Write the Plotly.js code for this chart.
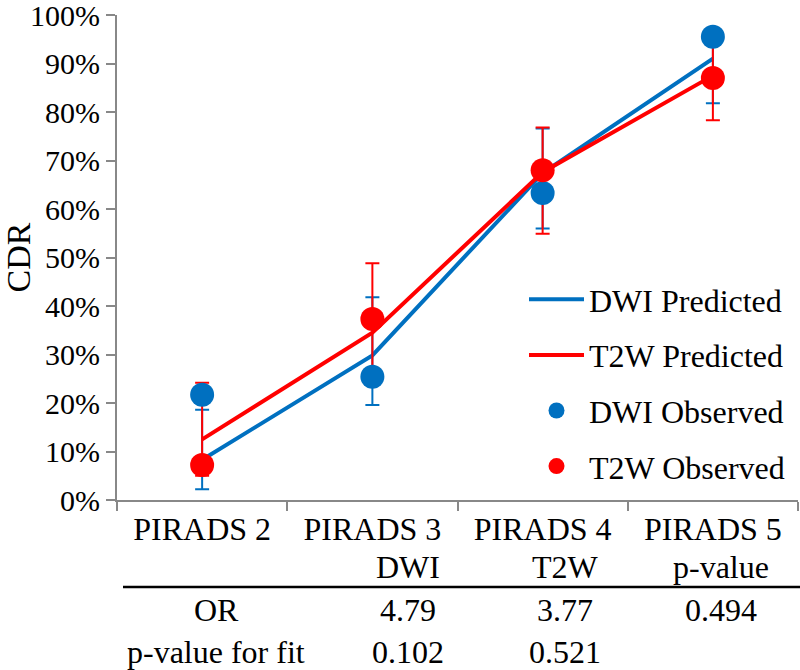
<!DOCTYPE html>
<html>
<head>
<meta charset="utf-8">
<script src="https://cdn.plot.ly/plotly-3.0.1.min.js"></script>
<style>
  html, body { margin: 0; padding: 0; background: #fff; }
  #chart { width: 800px; height: 670px; }
</style>
</head>
<body>
<div id="chart"></div>
<script>
// categories on the x axis
const categories = ['PIRADS 2', 'PIRADS 3', 'PIRADS 4', 'PIRADS 5']

// predicted CDR (%) with confidence limits
const dwiPredicted = [8.3, 29.8, 67.4, 91.0]
const dwiLow = [2.2, 19.6, 56.0, 81.8]
const dwiHigh = [18.6, 41.8, 76.6, 96.0]
const t2wPredicted = [12.5, 34.5, 67.6, 87.5]
const t2wLow = [5.0, 26.0, 54.9, 78.3]
const t2wHigh = [24.2, 48.8, 76.8, 94.0]

// observed CDR (%)
const dwiObserved = [21.7, 25.4, 63.3, 95.5]
const t2wObserved = [7.2, 37.3, 68.0, 87.0]

// table under the chart
const colHeaders = ['DWI', 'T2W', 'p-value']
const rowLabels = ['OR', 'p-value for fit']
const orValues = ['4.79', '3.77', '0.494']
const fitPValues = ['0.102', '0.521', '']

const BLUE = '#0070C0'
const RED = '#FF0000'
const GREY = '#888888'
const FONT = 'Liberation Serif'

// plot area in pixels (used to place table text)
const L = 117, T = 15, W = 681, H = 485
const px2x = px => (px - L) / W
const px2y = py => (T + H - py) / H

function errBar(pred, lo, hi, color) {
    return {
        type: 'data',
        symmetric: false,
        array: hi.map((h, i) => h - pred[i]),
        arrayminus: lo.map((l, i) => pred[i] - l),
        color: color,
        thickness: 2,
        width: 7
    }
}

const traces = [
    {
        x: categories, y: dwiPredicted, name: 'DWI Predicted',
        type: 'scatter', mode: 'lines', legendgroup: 'a',
        line: { color: BLUE, width: 4 },
        error_y: errBar(dwiPredicted, dwiLow, dwiHigh, BLUE)
    },
    {
        x: categories, y: t2wPredicted, name: 'T2W Predicted',
        type: 'scatter', mode: 'lines', legendgroup: 'b',
        line: { color: RED, width: 4 },
        error_y: errBar(t2wPredicted, t2wLow, t2wHigh, RED)
    },
    {
        x: categories, y: dwiObserved, name: 'DWI Observed',
        type: 'scatter', mode: 'markers', legendgroup: 'c',
        marker: { color: BLUE, size: 24, line: { width: 0 } }
    },
    {
        x: categories, y: t2wObserved, name: 'T2W Observed',
        type: 'scatter', mode: 'markers', legendgroup: 'd',
        marker: { color: RED, size: 24, line: { width: 0 } }
    }
]

// table text as annotations
const colX = [408, 565, 721]
const rowY = [610, 652]
const annotations = []
colHeaders.forEach((t, i) => annotations.push({ text: t, x: px2x(colX[i]), y: px2y(567) }))
rowLabels.forEach((t, i) => annotations.push({ text: t, x: px2x(216), y: px2y(rowY[i]) }))
orValues.forEach((t, i) => annotations.push({ text: t, x: px2x(colX[i]), y: px2y(rowY[0]) }))
fitPValues.forEach((t, i) => { if (t) annotations.push({ text: t, x: px2x(colX[i]), y: px2y(rowY[1]) }) })
annotations.forEach(a => {
    a.xref = 'paper'; a.yref = 'paper'
    a.xanchor = 'center'; a.yanchor = 'middle'
    a.showarrow = false
    a.font = { family: FONT, size: 32, color: '#000' }
})

const layout = {
    width: 800,
    height: 670,
    margin: { l: L, r: 800 - L - W, t: T, b: 670 - T - H, pad: 0 },
    paper_bgcolor: '#fff',
    plot_bgcolor: '#fff',
    font: { family: FONT, size: 30, color: '#000' },
    showlegend: true,
    legend: {
        x: px2x(524), y: px2y(272), xanchor: 'left', yanchor: 'top',
        font: { family: FONT, size: 32, color: '#000' },
        bgcolor: 'rgba(0,0,0,0)',
        traceorder: 'grouped',
        tracegroupgap: 11,
        itemwidth: 55
    },
    xaxis: {
        type: 'category',
        range: [-0.5, 3.5],
        showline: true, linecolor: GREY, linewidth: 2,
        ticks: 'outside', tickson: 'boundaries', ticklen: 9, tickcolor: GREY, tickwidth: 2,
        showgrid: false, zeroline: false,
        tickfont: { family: FONT, size: 32, color: '#000' }
    },
    yaxis: {
        range: [0, 100],
        dtick: 10,
        ticksuffix: '%',
        ticklabeloverflow: 'allow',
        showline: true, linecolor: GREY, linewidth: 2,
        ticks: 'outside', ticklen: 9, tickcolor: GREY, tickwidth: 2,
        showgrid: false, zeroline: false,
        tickfont: { family: FONT, size: 30, color: '#000' },
        title: { text: 'CDR', font: { family: FONT, size: 34, color: '#000' }, standoff: 3 }
    },
    shapes: [{
        type: 'line', xref: 'paper', yref: 'paper',
        x0: px2x(123), x1: px2x(800), y0: px2y(587), y1: px2y(587),
        line: { color: '#000', width: 2.5 }
    }],
    annotations: annotations
}

Plotly.newPlot('chart', traces, layout, { displayModeBar: false, staticPlot: true })
</script>
</body>
</html>
